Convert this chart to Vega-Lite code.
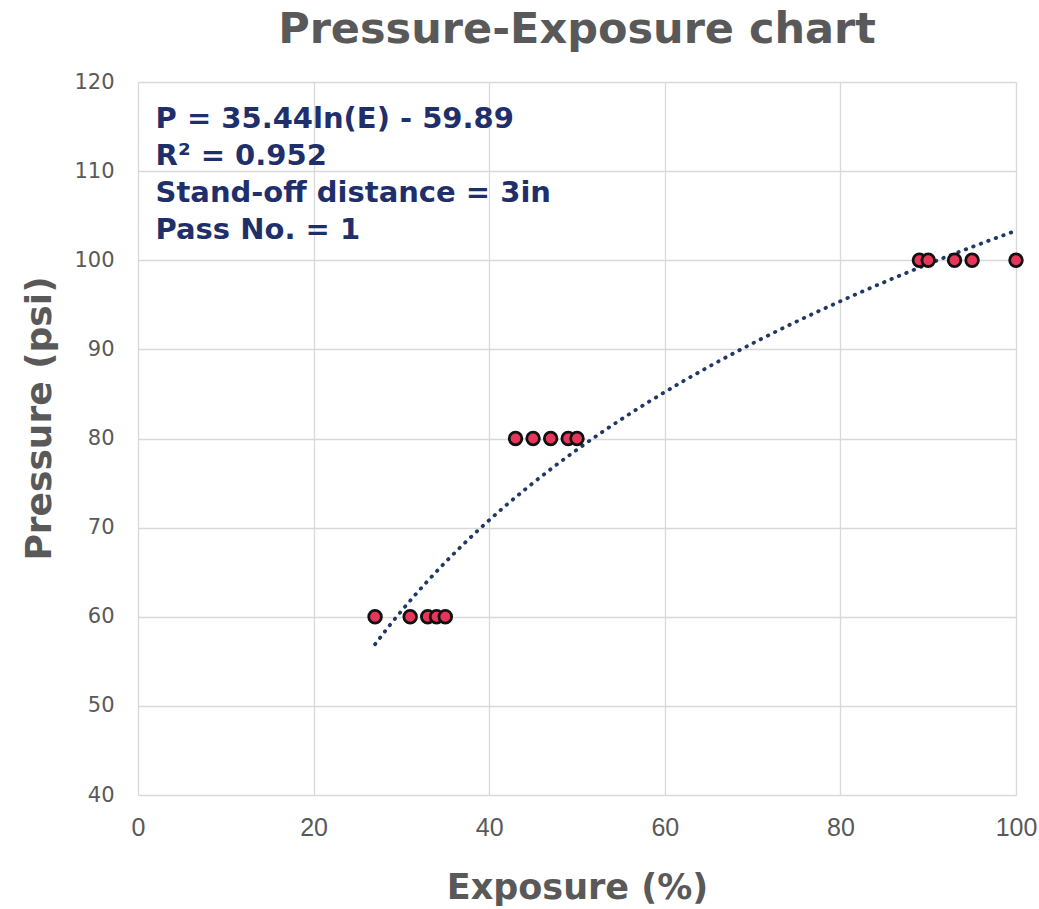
{
  "$schema": "https://vega.github.io/schema/vega-lite/v6.json",
  "width": 878,
  "height": 713,
  "autosize": {"type": "none"},
  "padding": {"left": 138, "top": 82, "right": 23, "bottom": 114},
  "background": "white",
  "title": {
    "text": "Pressure-Exposure chart",
    "font": "DejaVu Sans",
    "fontSize": 43,
    "fontWeight": "bold",
    "color": "#595959",
    "anchor": "middle",
    "offset": 19
  },
  "config": {
    "view": {"stroke": null},
    "axis": {
      "gridColor": "#D9D9D9",
      "gridWidth": 1.3,
      "domain": false,
      "ticks": false,
      "labelColor": "#595959",
      "titleColor": "#595959",
      "labelFont": "DejaVu Sans",
      "titleFont": "DejaVu Sans",
      "titleFontWeight": "bold"
    }
  },
  "datasets": {
    "points": [
      {"exposure": 27, "pressure": 60},
      {"exposure": 31, "pressure": 60},
      {"exposure": 33, "pressure": 60},
      {"exposure": 34, "pressure": 60},
      {"exposure": 35, "pressure": 60},
      {"exposure": 43, "pressure": 80},
      {"exposure": 45, "pressure": 80},
      {"exposure": 47, "pressure": 80},
      {"exposure": 49, "pressure": 80},
      {"exposure": 50, "pressure": 80},
      {"exposure": 89, "pressure": 100},
      {"exposure": 90, "pressure": 100},
      {"exposure": 93, "pressure": 100},
      {"exposure": 95, "pressure": 100},
      {"exposure": 100, "pressure": 100}
    ],
    "notes": [
      {"line": 1, "label": "P = 35.44ln(E) - 59.89", "exposure": 2, "pressure": 115.85},
      {"line": 2, "label": "R² = 0.952", "exposure": 2, "pressure": 111.7},
      {"line": 3, "label": "Stand-off distance = 3in", "exposure": 2, "pressure": 107.55},
      {"line": 4, "label": "Pass No. = 1", "exposure": 2, "pressure": 103.4}
    ]
  },
  "layer": [
    {
      "data": {"name": "points"},
      "transform": [
        {"regression": "pressure", "on": "exposure", "method": "log", "extent": [27, 100]}
      ],
      "mark": {
        "type": "line",
        "color": "#203864",
        "strokeWidth": 3.8,
        "strokeDash": [0.5, 7.5],
        "strokeCap": "round",
        "interpolate": "monotone"
      },
      "encoding": {
        "x": {
          "field": "exposure",
          "type": "quantitative",
          "scale": {"domain": [0, 100], "nice": false},
          "axis": {
            "values": [0, 20, 40, 60, 80, 100],
            "title": "Exposure (%)",
            "labelFont": "Liberation Sans",
            "labelFontSize": 25,
            "labelPadding": 20,
            "labelFlush": false,
            "titleFontSize": 35,
            "titlePadding": 30
          }
        },
        "y": {
          "field": "pressure",
          "type": "quantitative",
          "scale": {"domain": [40, 120], "nice": false, "zero": false},
          "axis": {
            "values": [40, 50, 60, 70, 80, 90, 100, 110, 120],
            "title": "Pressure (psi)",
            "labelFontSize": 21,
            "labelPadding": 24,
            "labelFlush": false,
            "titleFontSize": 36,
            "titleAngle": 270,
            "titleBaseline": "bottom",
            "titleX": -80,
            "titleY": 336
          }
        }
      }
    },
    {
      "data": {"name": "points"},
      "mark": {
        "type": "point",
        "shape": "circle",
        "filled": true,
        "fill": "#E8365A",
        "stroke": "#111111",
        "strokeWidth": 2.8,
        "size": 160,
        "opacity": 1
      },
      "encoding": {
        "x": {"field": "exposure", "type": "quantitative"},
        "y": {"field": "pressure", "type": "quantitative"}
      }
    },
    {
      "data": {"name": "notes"},
      "mark": {
        "type": "text",
        "align": "left",
        "baseline": "middle",
        "font": "DejaVu Sans",
        "fontSize": 29,
        "fontWeight": "bold",
        "color": "#1F2F6B"
      },
      "encoding": {
        "x": {"field": "exposure", "type": "quantitative"},
        "y": {"field": "pressure", "type": "quantitative"},
        "text": {"field": "label"}
      }
    }
  ]
}
